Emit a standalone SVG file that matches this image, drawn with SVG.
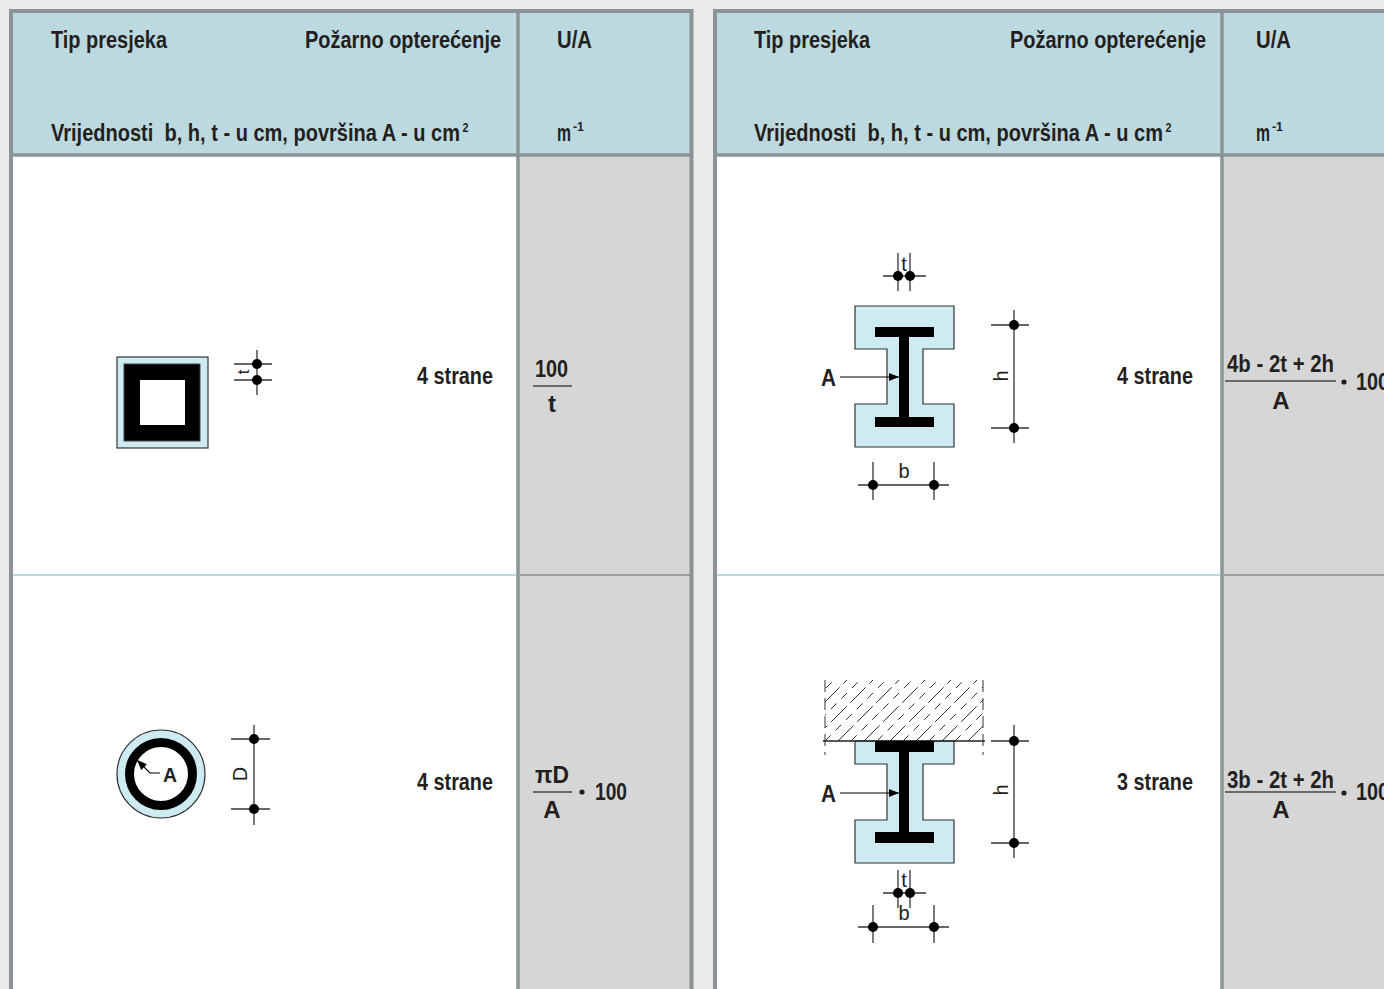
<svg xmlns="http://www.w3.org/2000/svg" width="1384" height="989" viewBox="0 0 1384 989">
<style>
.t{font-family:'Liberation Sans Narrow','Liberation Sans',Arial,sans-serif;font-weight:bold;fill:#231f20}
.hd{font-size:23px}
.fm{font-size:24px}
.lb{font-family:'Liberation Sans Narrow','Liberation Sans',Arial,sans-serif;font-weight:normal;fill:#231f20;font-size:20px;text-anchor:middle}
.sup{font-size:12px}
.bd{stroke:#8c9396;stroke-width:4;fill:none}
.bd2{stroke:#8c9396;stroke-width:3.5;fill:none}
.sepw{stroke:#bcd9df;stroke-width:2}
.sepg{stroke:#9a9ea1;stroke-width:2}
.dim{stroke:#333;stroke-width:1.3;fill:none}
.dot{fill:#000}
.steel{fill:#000}
.fire{fill:#cdebf1;stroke:#333;stroke-width:1.2}
.frac{stroke:#444;stroke-width:1.5}
.hatch{stroke:#333;stroke-width:1}
</style>
<defs>
<marker id="ah" viewBox="0 0 10 8" refX="10" refY="4" markerWidth="10" markerHeight="8" markerUnits="userSpaceOnUse" orient="auto"><path d="M0,0 L10,4 L0,8 Z" fill="#000"/></marker>
<clipPath id="hclip"><rect x="825" y="680" width="158" height="61"/></clipPath>
</defs>

<rect x="0" y="0" width="1384" height="989" fill="#ebebeb"/>

<g id="table-left">
<rect x="11" y="11" width="681" height="144" fill="#bcd9df"/>
<rect x="11" y="155" width="507" height="834" fill="#ffffff"/>
<rect x="518" y="155" width="174" height="834" fill="#d6d6d6"/>
<line class="sepw" x1="13" y1="575" x2="516" y2="575"/>
<line class="sepg" x1="520" y1="575" x2="690" y2="575"/>
<path class="bd" d="M11,989 V11 H691.5 V989"/>
<line class="bd2" x1="11" y1="155" x2="692" y2="155"/>
<line class="bd2" x1="518" y1="11" x2="518" y2="989"/>
<text class="t hd" x="51" y="48" textLength="116" lengthAdjust="spacingAndGlyphs">Tip presjeka</text>
<text class="t hd" x="305" y="48" textLength="196" lengthAdjust="spacingAndGlyphs">Požarno opterećenje</text>
<text class="t hd" x="557" y="48" textLength="35" lengthAdjust="spacingAndGlyphs">U/A</text>
<text class="t hd" x="51" y="141" textLength="409" lengthAdjust="spacingAndGlyphs" xml:space="preserve">Vrijednosti  b, h, t - u cm, površina A - u cm</text>
<text class="t sup" x="462.5" y="132" textLength="6" lengthAdjust="spacingAndGlyphs">2</text>
<text class="t hd" x="557" y="141" textLength="14" lengthAdjust="spacingAndGlyphs">m</text>
<text class="t sup" x="573" y="131" textLength="11" lengthAdjust="spacingAndGlyphs">-1</text>
</g>

<g id="table-right">
<rect x="715" y="11" width="680" height="144" fill="#bcd9df"/>
<rect x="715" y="155" width="507" height="834" fill="#ffffff"/>
<rect x="1222" y="155" width="170" height="834" fill="#d6d6d6"/>
<line class="sepw" x1="717" y1="575" x2="1220" y2="575"/>
<line class="sepg" x1="1224" y1="575" x2="1384" y2="575"/>
<path class="bd" d="M715,989 V11 H1390"/>
<line class="bd2" x1="715" y1="155" x2="1390" y2="155"/>
<line class="bd2" x1="1222" y1="11" x2="1222" y2="989"/>
<text class="t hd" x="754" y="48" textLength="116" lengthAdjust="spacingAndGlyphs">Tip presjeka</text>
<text class="t hd" x="1010" y="48" textLength="196" lengthAdjust="spacingAndGlyphs">Požarno opterećenje</text>
<text class="t hd" x="1256" y="48" textLength="35" lengthAdjust="spacingAndGlyphs">U/A</text>
<text class="t hd" x="754" y="141" textLength="409" lengthAdjust="spacingAndGlyphs" xml:space="preserve">Vrijednosti  b, h, t - u cm, površina A - u cm</text>
<text class="t sup" x="1165.5" y="132" textLength="6" lengthAdjust="spacingAndGlyphs">2</text>
<text class="t hd" x="1256" y="141" textLength="14" lengthAdjust="spacingAndGlyphs">m</text>
<text class="t sup" x="1272" y="131" textLength="11" lengthAdjust="spacingAndGlyphs">-1</text>
</g>

<g id="square-tube">
<rect class="fire" x="117" y="357" width="91" height="91"/>
<rect class="steel" x="124" y="364" width="76" height="77" stroke="#444" stroke-width="1"/>
<rect x="140" y="380" width="45" height="45" fill="#fff"/>
<line class="dim" x1="257" y1="350" x2="257" y2="395"/>
<line class="dim" x1="234" y1="364" x2="272" y2="364"/>
<line class="dim" x1="234" y1="380" x2="272" y2="380"/>
<circle class="dot" cx="257" cy="364" r="5"/>
<circle class="dot" cx="257" cy="380" r="5"/>
<text class="lb" style="font-size:17px" transform="translate(249,372) rotate(-90)">t</text>
<text class="t hd" x="417" y="384" textLength="76" lengthAdjust="spacingAndGlyphs">4 strane</text>
<text class="t fm" x="535" y="377" textLength="33" lengthAdjust="spacingAndGlyphs">100</text>
<line class="frac" x1="533" y1="386" x2="572" y2="386"/>
<text class="t fm" x="552" y="412" text-anchor="middle">t</text>
</g>

<g id="round-tube">
<circle class="fire" cx="161" cy="774" r="44"/>
<circle cx="161" cy="774" r="31.5" fill="#fff" stroke="#000" stroke-width="9"/>
<text class="t" style="font-size:21px" x="163" y="782" textLength="14" lengthAdjust="spacingAndGlyphs">A</text>
<line class="dim" x1="254" y1="725" x2="254" y2="825"/>
<line class="dim" x1="231" y1="739" x2="270" y2="739"/>
<line class="dim" x1="231" y1="809" x2="270" y2="809"/>
<circle class="dot" cx="254" cy="739" r="5"/>
<circle class="dot" cx="254" cy="809" r="5"/>
<text class="lb" transform="translate(247,774) rotate(-90)">D</text>
<text class="t hd" x="417" y="790" textLength="76" lengthAdjust="spacingAndGlyphs">4 strane</text>
<text class="t fm" x="535" y="783" textLength="34" lengthAdjust="spacingAndGlyphs">πD</text>
<line class="frac" x1="533" y1="792" x2="572" y2="792"/>
<text class="t fm" x="552" y="818" text-anchor="middle">A</text>
<circle cx="582" cy="792" r="2.6" fill="#231f20"/>
<text class="t fm" x="595" y="800" textLength="32" lengthAdjust="spacingAndGlyphs">100</text>
</g>

<g id="ibeam-4">
<path class="fire" d="M855,306 H954 V349 H923 V404 H954 V447 H855 V404 H887 V349 H855 Z"/>
<rect class="steel" x="875" y="327" width="59" height="10"/>
<rect class="steel" x="899" y="327" width="10" height="100"/>
<rect class="steel" x="875" y="417" width="59" height="10"/>
<text class="t hd" x="821" y="386" textLength="15" lengthAdjust="spacingAndGlyphs">A</text>
<line class="dim" x1="898" y1="253" x2="898" y2="291"/>
<line class="dim" x1="910" y1="253" x2="910" y2="291"/>
<line class="dim" x1="883" y1="276" x2="926" y2="276"/>
<circle class="dot" cx="898" cy="276" r="5"/>
<circle class="dot" cx="910" cy="276" r="5"/>
<text class="lb" x="904" y="271">t</text>
<line class="dim" x1="1014" y1="310" x2="1014" y2="443"/>
<line class="dim" x1="991" y1="325" x2="1029" y2="325"/>
<line class="dim" x1="991" y1="428" x2="1029" y2="428"/>
<circle class="dot" cx="1014" cy="325" r="5"/>
<circle class="dot" cx="1014" cy="428" r="5"/>
<text class="lb" transform="translate(1008,376) rotate(-90)">h</text>
<line class="dim" x1="873" y1="462" x2="873" y2="500"/>
<line class="dim" x1="934" y1="462" x2="934" y2="500"/>
<line class="dim" x1="858" y1="485" x2="949" y2="485"/>
<circle class="dot" cx="873" cy="485" r="5"/>
<circle class="dot" cx="934" cy="485" r="5"/>
<text class="lb" x="904" y="478">b</text>
<text class="t hd" x="1117" y="384" textLength="76" lengthAdjust="spacingAndGlyphs">4 strane</text>
<text class="t fm" x="1227" y="372" textLength="107" lengthAdjust="spacingAndGlyphs">4b - 2t + 2h</text>
<line class="frac" x1="1225" y1="381" x2="1336" y2="381"/>
<text class="t fm" x="1281" y="409" text-anchor="middle">A</text>
<circle cx="1344" cy="382" r="2.6" fill="#231f20"/>
<text class="t fm" x="1356" y="390" textLength="33" lengthAdjust="spacingAndGlyphs">100</text>
</g>

<g id="ibeam-3">
<line x1="825" y1="680" x2="825" y2="755" stroke="#555" stroke-width="1.2" stroke-dasharray="12 6"/>
<line x1="983" y1="680" x2="983" y2="755" stroke="#555" stroke-width="1.2" stroke-dasharray="12 6"/>
<g clip-path="url(#hclip)">
<g class="hatch">
<line x1="760" y1="741" x2="822" y2="679" stroke-dasharray="22 5"/>
<line x1="773" y1="741" x2="835" y2="679" stroke-dasharray="8 7"/>
<line x1="786" y1="741" x2="848" y2="679" stroke-dasharray="22 5"/>
<line x1="799" y1="741" x2="861" y2="679" stroke-dasharray="8 7"/>
<line x1="812" y1="741" x2="874" y2="679" stroke-dasharray="22 5"/>
<line x1="825" y1="741" x2="887" y2="679" stroke-dasharray="8 7"/>
<line x1="838" y1="741" x2="900" y2="679" stroke-dasharray="22 5"/>
<line x1="851" y1="741" x2="913" y2="679" stroke-dasharray="8 7"/>
<line x1="864" y1="741" x2="926" y2="679" stroke-dasharray="22 5"/>
<line x1="877" y1="741" x2="939" y2="679" stroke-dasharray="8 7"/>
<line x1="890" y1="741" x2="952" y2="679" stroke-dasharray="22 5"/>
<line x1="903" y1="741" x2="965" y2="679" stroke-dasharray="8 7"/>
<line x1="916" y1="741" x2="978" y2="679" stroke-dasharray="22 5"/>
<line x1="929" y1="741" x2="991" y2="679" stroke-dasharray="8 7"/>
<line x1="942" y1="741" x2="1004" y2="679" stroke-dasharray="22 5"/>
<line x1="955" y1="741" x2="1017" y2="679" stroke-dasharray="8 7"/>
<line x1="968" y1="741" x2="1030" y2="679" stroke-dasharray="22 5"/>
</g>
</g>
<path class="fire" d="M855,741 H954 V764 H923 V820 H954 V863 H855 V820 H887 V764 H855 Z"/>
<line x1="823" y1="741" x2="985" y2="741" stroke="#222" stroke-width="1.5"/>
<rect class="steel" x="875" y="741" width="59" height="11"/>
<rect class="steel" x="899" y="741" width="10" height="100"/>
<rect class="steel" x="875" y="832" width="59" height="11"/>
<text class="t hd" x="821" y="802" textLength="15" lengthAdjust="spacingAndGlyphs">A</text>
<line class="dim" x1="1014" y1="725" x2="1014" y2="858"/>
<line class="dim" x1="991" y1="741" x2="1029" y2="741"/>
<line class="dim" x1="991" y1="843" x2="1029" y2="843"/>
<circle class="dot" cx="1014" cy="741" r="5"/>
<circle class="dot" cx="1014" cy="843" r="5"/>
<text class="lb" transform="translate(1008,790) rotate(-90)">h</text>
<line class="dim" x1="898" y1="870" x2="898" y2="908"/>
<line class="dim" x1="910" y1="870" x2="910" y2="908"/>
<line class="dim" x1="883" y1="893" x2="926" y2="893"/>
<circle class="dot" cx="898" cy="893" r="5"/>
<circle class="dot" cx="910" cy="893" r="5"/>
<text class="lb" x="904" y="887">t</text>
<line class="dim" x1="873" y1="905" x2="873" y2="943"/>
<line class="dim" x1="934" y1="905" x2="934" y2="943"/>
<line class="dim" x1="858" y1="927" x2="949" y2="927"/>
<circle class="dot" cx="873" cy="927" r="5"/>
<circle class="dot" cx="934" cy="927" r="5"/>
<text class="lb" x="904" y="920">b</text>
<text class="t hd" x="1117" y="790" textLength="76" lengthAdjust="spacingAndGlyphs">3 strane</text>
<text class="t fm" x="1227" y="788" textLength="107" lengthAdjust="spacingAndGlyphs">3b - 2t + 2h</text>
<line class="frac" x1="1225" y1="792" x2="1336" y2="792"/>
<text class="t fm" x="1281" y="818" text-anchor="middle">A</text>
<circle cx="1344" cy="793" r="2.6" fill="#231f20"/>
<text class="t fm" x="1356" y="800" textLength="33" lengthAdjust="spacingAndGlyphs">100</text>
</g>

<g id="connectors" fill="none" stroke="#000" stroke-width="1.2">
<polyline points="160,773 150,773 137,760" marker-end="url(#ah)"/>
<line x1="840" y1="377" x2="899" y2="377" marker-end="url(#ah)"/>
<line x1="840" y1="793" x2="899" y2="793" marker-end="url(#ah)"/>
</g>
</svg>
